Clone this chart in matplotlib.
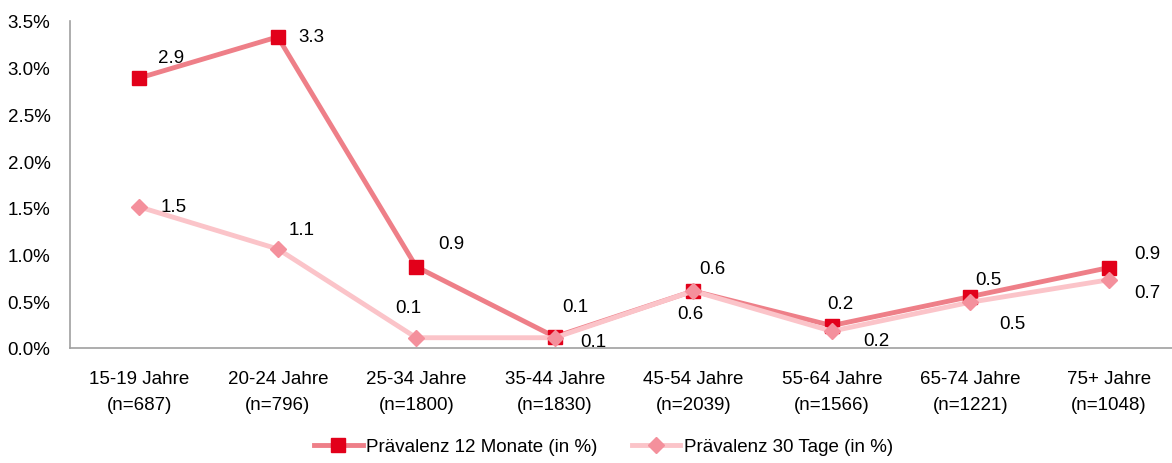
import numpy as np
from matplotlib import pyplot as plt
from matplotlib.ticker import FuncFormatter

plt.rcParams['font.family'] = ['Liberation Sans Narrow', 'Liberation Sans', 'DejaVu Sans']

categories = ['15-19 Jahre\n(n=687)', '20-24 Jahre\n(n=796)', '25-34 Jahre\n(n=1800)',
              '35-44 Jahre\n(n=1830)', '45-54 Jahre\n(n=2039)', '55-64 Jahre\n(n=1566)',
              '65-74 Jahre\n(n=1221)', '75+ Jahre\n(n=1048)']
prev_12m = [2.89, 3.33, 0.87, 0.12, 0.61, 0.24, 0.55, 0.86]
prev_30d = [1.51, 1.06, 0.11, 0.11, 0.61, 0.18, 0.49, 0.73]
labels_12m = ['2.9', '3.3', '0.9', '0.1', '0.6', '0.2', '0.5', '0.9']
labels_30d = ['1.5', '1.1', '0.1', '0.1', '0.6', '0.2', '0.5', '0.7']

# label offsets in points (dx, dy)
off_12m = [(23, 15), (24, 0), (25, 17), (15, 22), (14, 16), (6, 16), (13, 12), (28, 10)]
off_30d = [(25, 0), (17, 14), (-6, 22), (28, -3), (-2, -16), (32, -7), (30, -15), (28, -9)]

fig = plt.figure(figsize=(11.72, 4.64), dpi=100)
ax = fig.add_axes([70 / 1172, 115 / 464, 1108 / 1172, 327 / 464])

x = np.arange(len(categories))
ax.plot(x, prev_12m, color='#ee7f88', lw=3.5, marker='s', ms=10,
        mfc='#e2001a', mec='#e2001a', label='Prävalenz 12 Monate (in %)', zorder=3)
ax.plot(x, prev_30d, color='#fbc4c9', lw=3.5, marker='D', ms=8,
        mfc='#f4909c', mec='#f4909c', label='Prävalenz 30 Tage (in %)', zorder=4)

for i in range(len(x)):
    ax.annotate(labels_12m[i], (x[i], prev_12m[i]), xytext=off_12m[i],
                textcoords='offset points', ha='center', va='center', fontsize=13.5)
    ax.annotate(labels_30d[i], (x[i], prev_30d[i]), xytext=off_30d[i],
                textcoords='offset points', ha='center', va='center', fontsize=13.5)

ax.set_xlim(-0.5, 7.5)
ax.set_ylim(0, 3.5)
ax.set_yticks(np.arange(0, 3.51, 0.5))
ax.yaxis.set_major_formatter(FuncFormatter(lambda v, p: f'{v:.1f}%'))
ax.set_xticks(x)
ax.set_xticklabels(categories, linespacing=1.65)
ax.tick_params(axis='both', length=0, labelsize=13.5)
ax.tick_params(axis='x', pad=16)
ax.tick_params(axis='y', pad=14)

for s in ['top', 'right']:
    ax.spines[s].set_visible(False)
for s in ['left', 'bottom']:
    ax.spines[s].set_color('#a0a0a0')
    ax.spines[s].set_linewidth(1.2)

fig.legend(loc='center', bbox_to_anchor=(0.515, 0.035), ncol=2, frameon=False,
           fontsize=13.5, handlelength=2.6, columnspacing=1.8, handletextpad=0.2)

fig.savefig('out.png', dpi=100)
